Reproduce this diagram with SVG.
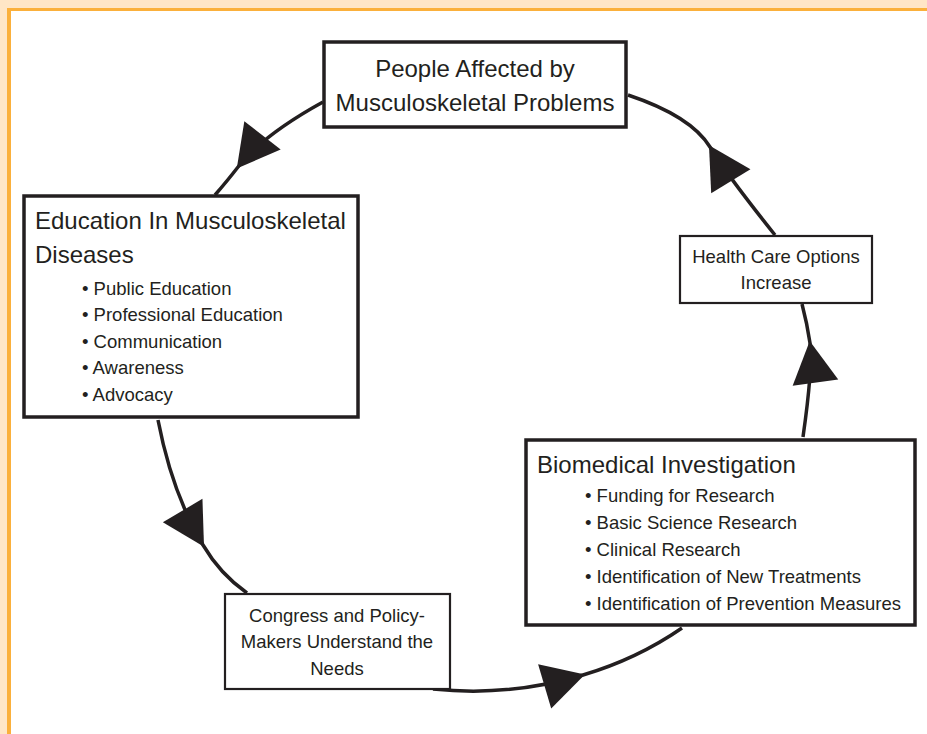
<svg xmlns="http://www.w3.org/2000/svg" width="927" height="734" viewBox="0 0 927 734">
<style>
.box{fill:#fff;stroke:#231f20}
.thick{stroke-width:3.5}
.thin{stroke-width:2.2}
.t{font-family:"Liberation Sans",Arial,sans-serif;fill:#231f20}
.big{font-size:24px}
.small{font-size:18.5px}
.c{text-anchor:middle}
.conn{fill:none;stroke:#231f20;stroke-width:3.5;marker-mid:url(#arr)}
</style>
<defs>
<marker id="arr" markerUnits="userSpaceOnUse" orient="auto" markerWidth="10" markerHeight="10" refX="0" refY="0" overflow="visible">
<path d="M2,0 L-40,-23 L-40,23 Z" fill="#231f20"/>
</marker>
</defs>
<rect x="0" y="0" width="927" height="734" fill="#ffe6c6"/>
<rect x="7" y="8" width="930" height="740" fill="#fbb03b"/>
<rect x="11" y="11" width="930" height="740" fill="#ffffff"/>
<g id="connectors">
<path class="conn" d="M323,102 Q263,135 238,167 Q228,180 215,195"/>
<path class="conn" d="M158,420 Q172,493 203,545 Q220,574 247,593"/>
<path class="conn" d="M433,689 Q509,697 583,675 Q637,659 682,628"/>
<path class="conn" d="M803,437 Q813,367 810,343 Q807,323 802,304"/>
<path class="conn" d="M775,235 Q727,175 710,147 Q691,116 628,95"/>
</g>
<g id="people">
<rect class="box thick" x="324" y="42" width="302" height="85"/>
<text class="t big c" x="475" y="77">People Affected by</text>
<text class="t big c" x="475" y="111">Musculoskeletal Problems</text>
</g>
<g id="education">
<rect class="box thick" x="24" y="196" width="334" height="221"/>
<text class="t big" x="35" y="229">Education In Musculoskeletal</text>
<text class="t big" x="35" y="263">Diseases</text>
<text class="t small" x="82" y="295">• Public Education</text>
<text class="t small" x="82" y="321">• Professional Education</text>
<text class="t small" x="82" y="348">• Communication</text>
<text class="t small" x="82" y="374">• Awareness</text>
<text class="t small" x="82" y="401">• Advocacy</text>
</g>
<g id="healthcare">
<rect class="box thin" x="680" y="236" width="192" height="67"/>
<text class="t small c" x="776" y="263">Health Care Options</text>
<text class="t small c" x="776" y="289">Increase</text>
</g>
<g id="biomedical">
<rect class="box thick" x="526" y="440" width="389" height="185"/>
<text class="t big" x="537" y="473">Biomedical Investigation</text>
<text class="t small" x="585" y="502">• Funding for Research</text>
<text class="t small" x="585" y="529">• Basic Science Research</text>
<text class="t small" x="585" y="556">• Clinical Research</text>
<text class="t small" x="585" y="583">• Identification of New Treatments</text>
<text class="t small" x="585" y="610">• Identification of Prevention Measures</text>
</g>
<g id="congress">
<rect class="box thin" x="225" y="594" width="225" height="95"/>
<text class="t small c" x="337" y="622">Congress and Policy-</text>
<text class="t small c" x="337" y="648">Makers Understand the</text>
<text class="t small c" x="337" y="675">Needs</text>
</g>
</svg>
